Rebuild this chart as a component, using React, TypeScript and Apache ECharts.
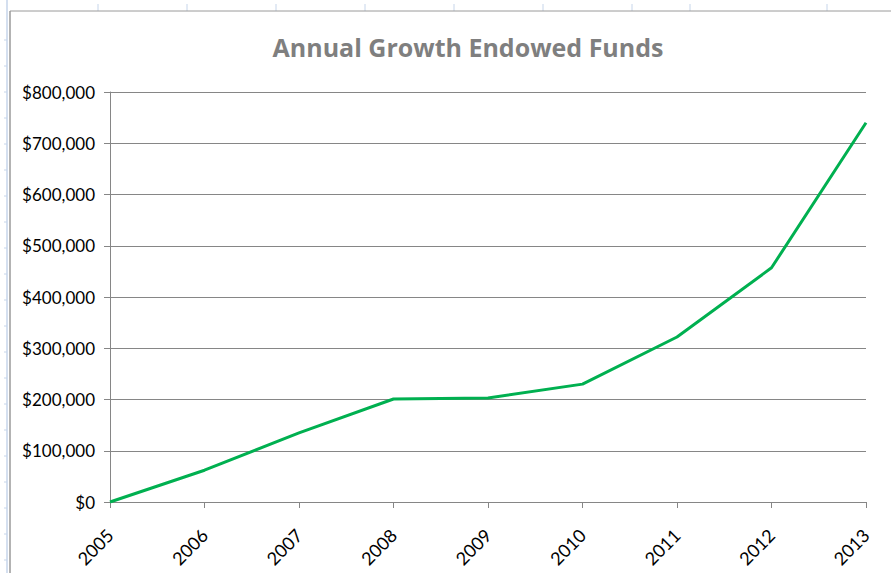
import React, { useEffect, useRef } from "react";
import * as echarts from "echarts";

const years = ["2005", "2006", "2007", "2008", "2009", "2010", "2011", "2012", "2013"];
const funds = [0, 62000, 135000, 201000, 203000, 230000, 322000, 457000, 740000];
const titleText = "Annual Growth Endowed Funds";

export default function App() {
  const ref = useRef<HTMLDivElement>(null);
  useEffect(() => {
    if (!ref.current) return;
    const chart = echarts.init(ref.current, null, { renderer: "svg" });
    const topTicks = [98, 187, 276, 365, 454, 543, 632, 690, 827];
    const leftTicks = [40, 66, 92, 118, 144, 170, 196, 222, 248, 274, 300, 326, 352, 378, 404, 430, 456, 482, 508, 534, 560];
    chart.setOption({
      animation: false,
      backgroundColor: "#ffffff",
      title: {
        text: titleText,
        left: 463,
        textAlign: "center",
        top: 29,
        textStyle: { fontFamily: "Open Sans", fontWeight: "bold", fontSize: 25, color: "#7f7f7f" },
      },
      grid: { left: 110, right: 25, top: 92, bottom: 71, containLabel: false, outerBoundsMode: "none" },
      xAxis: {
        type: "category",
        data: years,
        boundaryGap: false,
        axisLine: { lineStyle: { color: "#868686", width: 1 } },
        axisTick: { show: true, length: 6, lineStyle: { color: "#868686" } },
        axisLabel: {
          rotate: 45,
          margin: 30,
          fontFamily: "Lato",
          fontSize: 18,
          color: "#000000",
        },
      },
      yAxis: {
        type: "value",
        min: 0,
        max: 800000,
        interval: 100000,
        axisLine: { show: true, lineStyle: { color: "#868686", width: 1 } },
        axisTick: { show: true, length: 6, lineStyle: { color: "#868686" } },
        splitLine: { lineStyle: { color: "#868686", width: 1 } },
        axisLabel: {
          margin: 15,
          fontFamily: "Lato",
          fontSize: 17,
          color: "#000000",
          formatter: (v: number) => "$" + v.toLocaleString("en-US"),
        },
      },
      series: [
        {
          type: "line",
          data: funds,
          showSymbol: false,
          lineStyle: { color: "#00b050", width: 3 },
          itemStyle: { color: "#00b050" },
        },
      ],
      graphic: [
        { type: "line", shape: { x1: 7, y1: 0, x2: 7, y2: 573 }, style: { stroke: "#c6d5ea", lineWidth: 1.5 } },
        ...leftTicks.map((y) => ({ type: "line", shape: { x1: 4, y1: y, x2: 7, y2: y }, style: { stroke: "#c6d5ea", lineWidth: 1 } })),
        ...topTicks.map((x) => ({ type: "line", shape: { x1: x, y1: 4, x2: x, y2: 11 }, style: { stroke: "#c6d5ea", lineWidth: 1 } })),
        { type: "line", shape: { x1: 10, y1: 11, x2: 891, y2: 11 }, style: { stroke: "#9a9a9a", lineWidth: 1 } },
        { type: "line", shape: { x1: 10, y1: 11, x2: 10, y2: 573 }, style: { stroke: "#9a9a9a", lineWidth: 1.5 } },
      ],
    });
    return () => chart.dispose();
  }, []);
  return <div ref={ref} style={{ position: "fixed", left: 0, top: 0, width: 891, height: 573 }} />;
}
